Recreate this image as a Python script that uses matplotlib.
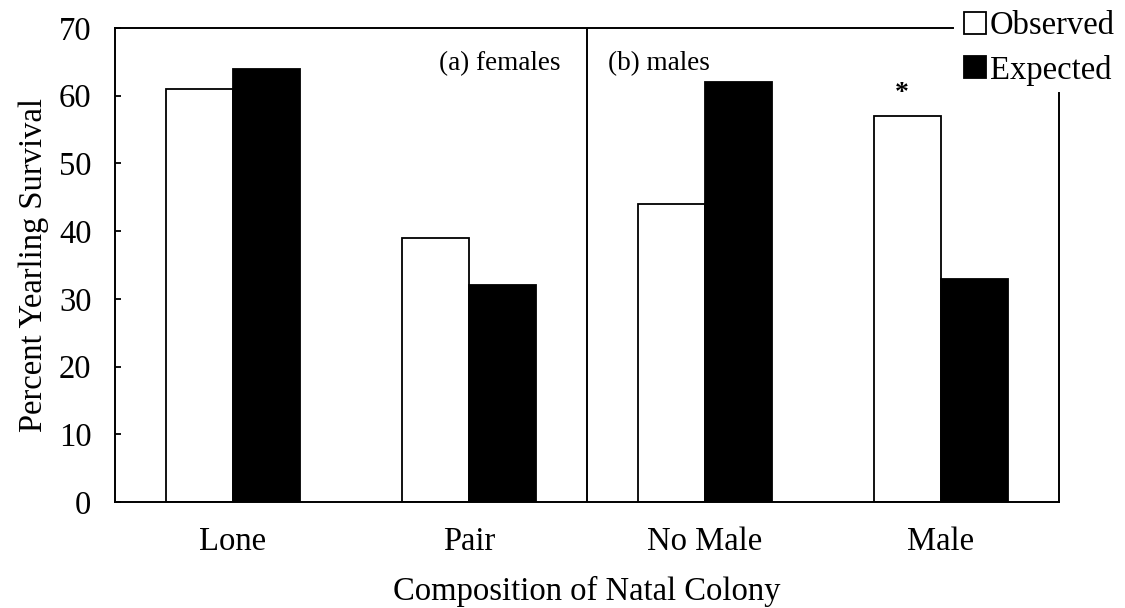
import matplotlib
matplotlib.use("Agg")
import matplotlib.pyplot as plt
import numpy as np
from matplotlib.lines import Line2D

categories = ["Lone", "Pair", "No Male", "Male"]
observed = [61, 39, 44, 57]
expected = [64, 32, 62, 33]
yticks = [0, 10, 20, 30, 40, 50, 60, 70]

plt.rcParams['font.family'] = ['Liberation Serif', 'DejaVu Serif']

fig = plt.figure(figsize=(11.25, 6.08), dpi=100)
ax = fig.add_axes([115/1125, 1 - 502/608, (1059-115)/1125, (502-28)/608])

x = np.arange(len(categories))
w = 0.283
ax.bar(x - w/2, observed, width=w, color='white', edgecolor='black', linewidth=1.3, zorder=2)
ax.bar(x + w/2, expected, width=w, color='black', edgecolor='black', linewidth=1.3, zorder=2)

ax.set_xlim(-0.5, 3.5)
ax.set_ylim(0, 70)
ax.set_yticks(yticks)
ax.set_xticks(x)
ax.set_xticklabels(categories, fontsize=23.5)
ax.tick_params(axis='x', length=0, pad=18)
ax.tick_params(axis='y', direction='in', length=4, width=1.3, labelsize=23.5, pad=17)

for s in ['top', 'right']:
    ax.spines[s].set_visible(False)
for s in ['left', 'bottom']:
    ax.spines[s].set_linewidth(1.4)

# partial top and right frame lines (legend occupies the corner)
ax.plot([0, (953-115)/944], [1, 1], color='black', lw=1.4, transform=ax.transAxes, clip_on=False)
ax.plot([1, 1], [0, (502-93)/474], color='black', lw=1.4, transform=ax.transAxes, clip_on=False)

# divider between females and males
ax.axvline(1.5, color='black', lw=1.4)

ax.text(1.386, 64.8, "(a) females", ha='right', va='center', fontsize=19.5)
ax.text(1.589, 64.8, "(b) males", ha='left', va='center', fontsize=19.5)

ax.text(2.835, 60.3, "*", ha='center', va='center', fontsize=20, fontweight='bold')

ax.set_ylabel("Percent Yearling Survival", fontsize=23.5, labelpad=7)
ax.set_xlabel("Composition of Natal Colony", fontsize=23.5, labelpad=13)

handles = [
    Line2D([0], [0], marker='s', linestyle='none', markersize=16, markerfacecolor='white',
           markeredgecolor='black', markeredgewidth=1.3),
    Line2D([0], [0], marker='s', linestyle='none', markersize=16, markerfacecolor='black',
           markeredgecolor='black', markeredgewidth=1.3),
]
fig.legend(handles, ["Observed", "Expected"], loc='upper left', bbox_to_anchor=(946/1125, 1.0 + 9/608),
           frameon=False, fontsize=23.5, handlelength=0.6, handletextpad=0.15,
           labelspacing=0.42, borderpad=0.1)

fig.savefig("out.png", dpi=100)
